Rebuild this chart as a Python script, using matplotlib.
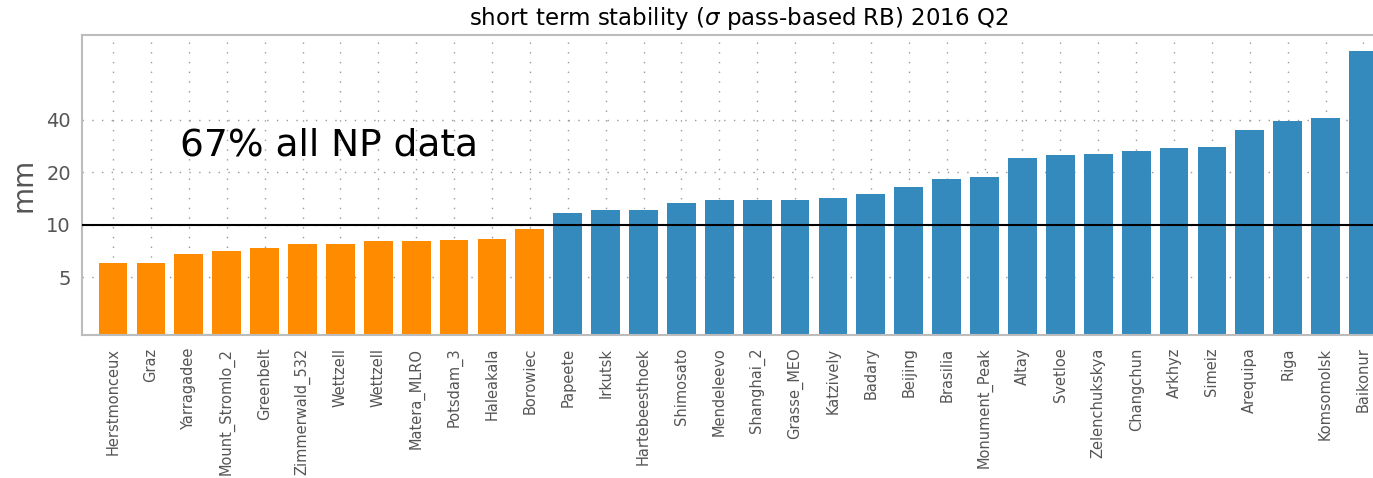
import matplotlib
matplotlib.use('Agg')
import matplotlib.pyplot as plt
from matplotlib.ticker import FixedLocator, NullLocator

# station names, sorted by short term stability
stations = ['Herstmonceux', 'Graz', 'Yarragadee', 'Mount_Stromlo_2', 'Greenbelt',
            'Zimmerwald_532', 'Wettzell', 'Wettzell', 'Matera_MLRO', 'Potsdam_3',
            'Haleakala', 'Borowiec', 'Papeete', 'Irkutsk', 'Hartebeesthoek',
            'Shimosato', 'Mendeleevo', 'Shanghai_2', 'Grasse_MEO', 'Katzively',
            'Badary', 'Beijing', 'Brasilia', 'Monument_Peak', 'Altay', 'Svetloe',
            'Zelenchukskya', 'Changchun', 'Arkhyz', 'Simeiz', 'Arequipa', 'Riga',
            'Komsomolsk', 'Baikonur']
# sigma in mm
sigma_mm = [6.0, 6.0, 6.8, 7.1, 7.4, 7.8, 7.8, 8.1, 8.1, 8.2, 8.3, 9.5,
            11.7, 12.1, 12.2, 13.4, 13.8, 13.8, 13.8, 14.2, 15.1, 16.4,
            18.4, 18.8, 24.1, 25.0, 25.6, 26.7, 27.5, 27.9, 35.1, 39.5,
            41.1, 99.0]
threshold = 10
yticks = [5, 10, 20, 40]

colors = ['#ff8c00' if v < threshold else '#348abd' for v in sigma_mm]

fig = plt.figure(figsize=(13.73, 4.78), dpi=100)
# axes runs off the right edge like the original crop
ax = fig.add_axes([0.0597, 0.299, 0.956, 0.628])

x = list(range(len(stations)))
ax.bar(x, sigma_mm, width=0.76, color=colors, zorder=2)
ax.axhline(threshold, color='black', lw=1.5, zorder=3)

ax.set_yscale('log')
ax.set_ylim(2.33, 123)
ax.set_xlim(-0.82, len(stations) - 0.18)
ax.yaxis.set_major_locator(FixedLocator(yticks))
ax.yaxis.set_minor_locator(NullLocator())
ax.set_yticklabels([str(t) for t in yticks])
ax.set_xticks(x)
ax.set_xticklabels(stations, rotation=90)

ax.grid(True, linestyle=(0, (1, 6)), color='#999999', lw=1, zorder=0)
ax.set_axisbelow(True)
ax.tick_params(axis='both', length=0, colors='#555555')
ax.tick_params(axis='y', labelsize=14, pad=8)
ax.tick_params(axis='x', labelsize=10.5, pad=9)
for s in ax.spines.values():
    s.set_color('#bcbcbc')
    s.set_linewidth(1.5)

ax.set_ylabel('mm', fontsize=20, color='#555555', labelpad=6)
ax.set_title(r'short term stability ($\sigma$ pass-based RB) 2016 Q2', fontsize=16.5, pad=7)
ax.text(0.075, 0.63, '67% all NP data', transform=ax.transAxes, fontsize=27,
        va='center', ha='left')

plt.savefig('out.png', dpi=100)
